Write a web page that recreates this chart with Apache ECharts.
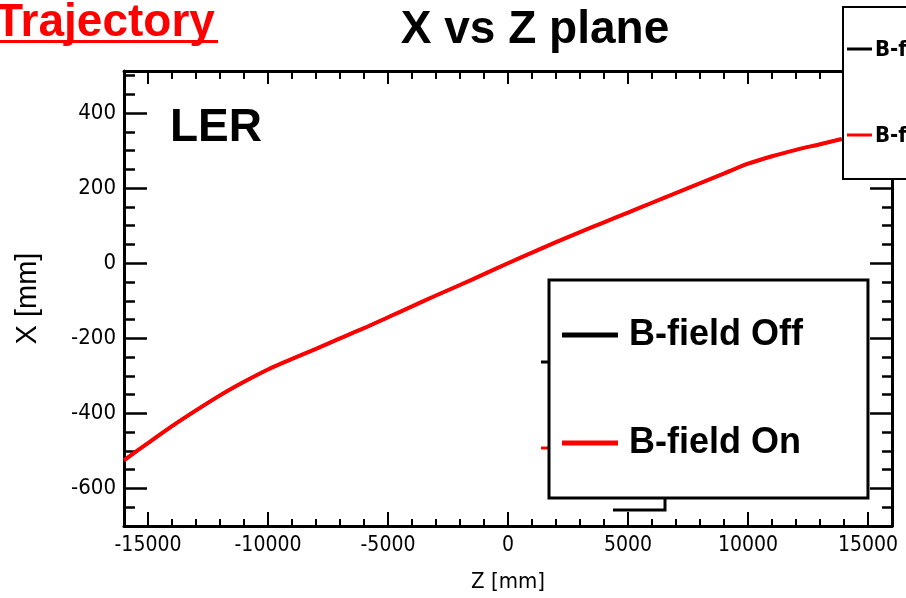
<!DOCTYPE html>
<html>
<head>
    <meta charset="UTF-8">
    <script type="text/javascript" src="https://cdn.jsdelivr.net/npm/echarts@6/dist/echarts.min.js"></script>
    <title>X vs Z plane</title>
    <style>
        html, body { margin: 0; padding: 0; background: #fff; }
        #main { width: 906px; height: 598px; }
    </style>
</head>
<body>
    <div id="main"></div>
    <script type="text/javascript">
    // Z position [mm] of the sampled trajectory points
    var zPos = [-16000, -15000, -14000, -13000, -12000, -11000, -10000, -9000, -8000, -7000,
        -6000, -5000, -4000, -3000, -2000, -1000, 0, 1000, 2000, 3000,
        4000, 5000, 6000, 7000, 8000, 9000, 10000, 11000, 12000, 13000, 13900];
    // X [mm] with B-field on (red)
    var xOn = [-525, -479, -434, -392, -352, -316, -283, -255, -228, -200,
        -173, -144, -115, -86, -58, -29, 0, 28, 56, 83,
        109, 135, 161, 187, 213, 239, 265, 285, 302, 317, 331];
    // X [mm] with B-field off (black, hidden under the red curve)
    var xOff = [-525, -479, -434, -392, -352, -316, -283, -255, -228, -200,
        -173, -144, -115, -86, -58, -29, 0, 28, 56, 83,
        109, 135, 161, 187, 213, 239, 265, 285, 302, 317, 331];

    var zTicks = [-15000, -10000, -5000, 0, 5000, 10000, 15000];
    var xTicks = [-600, -400, -200, 0, 200, 400];
    var seriesNames = ['B-field Off', 'B-field On'];

    var narrow = "'Liberation Sans Narrow', 'DejaVu Sans Condensed', sans-serif";
    var arial = "'Liberation Sans', Arial, sans-serif";

    function pairs(xs, ys) {
        var out = [];
        for (var i = 0; i < xs.length; i++) {
            out.push([xs[i], ys[i]]);
        }
        return out;
    }

    function plain(v) {
        return String(v);
    }

    var chart = echarts.init(document.getElementById('main'));

    var black = { color: '#000', width: 3 };

    var option = {
        backgroundColor: '#fff',
        animation: false,
        grid: {
            left: 124,
            right: 14,
            top: 71,
            bottom: 72,
            containLabel: false,
            outerBoundsMode: 'none'
        },
        legend: {
            data: seriesNames,
            orient: 'vertical',
            left: 549,
            top: 280,
            padding: [37, 65, 37, 13],
            itemGap: 72,
            itemWidth: 56,
            itemHeight: 5,
            icon: 'rect',
            backgroundColor: '#fff',
            borderColor: '#000',
            borderWidth: 3,
            borderRadius: 0,
            textStyle: {
                fontFamily: arial,
                fontWeight: 'bold',
                fontSize: 36,
                color: '#000',
                padding: [0, 0, 0, 6]
            },
            z: 10
        },
        xAxis: [{
            // bottom, major ticks + labels
            type: 'value',
            position: 'bottom',
            min: -16000,
            max: 16000,
            name: 'Z [mm]',
            nameLocation: 'middle',
            nameGap: 45,
            nameTextStyle: { fontFamily: narrow, fontSize: 22, color: '#000' },
            axisLine: { show: true, onZero: false, lineStyle: black },
            axisTick: { show: true, inside: true, length: 14, customValues: zTicks, lineStyle: { color: '#000', width: 2 } },
            axisLabel: { show: true, customValues: zTicks, formatter: plain, margin: 9, fontFamily: narrow, fontSize: 21, color: '#000' },
            splitLine: { show: false }
        }, {
            // bottom, minor ticks
            type: 'value',
            position: 'bottom',
            min: -16000,
            max: 16000,
            interval: 1000,
            axisLine: { show: false, onZero: false },
            axisTick: { show: true, inside: true, length: 7, lineStyle: { color: '#000', width: 2 } },
            axisLabel: { show: false },
            splitLine: { show: false }
        }, {
            // top, major ticks
            type: 'value',
            position: 'top',
            min: -16000,
            max: 16000,
            axisLine: { show: true, onZero: false, lineStyle: black },
            axisTick: { show: true, inside: true, length: 13, customValues: zTicks, lineStyle: { color: '#000', width: 2 } },
            axisLabel: { show: false },
            splitLine: { show: false }
        }, {
            // top, minor ticks
            type: 'value',
            position: 'top',
            min: -16000,
            max: 16000,
            interval: 1000,
            axisLine: { show: false, onZero: false },
            axisTick: { show: true, inside: true, length: 8, lineStyle: { color: '#000', width: 2 } },
            axisLabel: { show: false },
            splitLine: { show: false }
        }],
        yAxis: [{
            // left, major ticks + labels
            type: 'value',
            position: 'left',
            min: -700,
            max: 512,
            name: 'X [mm]',
            nameLocation: 'middle',
            nameGap: 82,
            nameRotate: 90,
            nameTextStyle: { fontFamily: arial, fontSize: 29, color: '#000' },
            axisLine: { show: true, onZero: false, lineStyle: black },
            axisTick: { show: true, inside: true, length: 23, customValues: xTicks, lineStyle: { color: '#000', width: 2.5 } },
            axisLabel: { show: true, customValues: xTicks, formatter: plain, margin: 8, fontFamily: narrow, fontSize: 22, color: '#000' },
            splitLine: { show: false }
        }, {
            // left, minor ticks
            type: 'value',
            position: 'left',
            min: -700,
            max: 512,
            interval: 50,
            axisLine: { show: false, onZero: false },
            axisTick: { show: true, inside: true, length: 11, lineStyle: { color: '#000', width: 2.5 } },
            axisLabel: { show: false },
            splitLine: { show: false }
        }, {
            // right, major ticks
            type: 'value',
            position: 'right',
            min: -700,
            max: 512,
            axisLine: { show: true, onZero: false, lineStyle: black },
            axisTick: { show: true, inside: true, length: 22, customValues: xTicks, lineStyle: { color: '#000', width: 2.5 } },
            axisLabel: { show: false },
            splitLine: { show: false }
        }, {
            // right, minor ticks
            type: 'value',
            position: 'right',
            min: -700,
            max: 512,
            interval: 50,
            axisLine: { show: false, onZero: false },
            axisTick: { show: true, inside: true, length: 10, lineStyle: { color: '#000', width: 2.5 } },
            axisLabel: { show: false },
            splitLine: { show: false }
        }],
        series: [{
            name: seriesNames[0],
            type: 'line',
            xAxisIndex: 0,
            yAxisIndex: 0,
            showSymbol: false,
            smooth: 0.3,
            color: '#000',
            lineStyle: { color: '#000', width: 3 },
            data: pairs(zPos, xOff)
        }, {
            name: seriesNames[1],
            type: 'line',
            xAxisIndex: 0,
            yAxisIndex: 0,
            showSymbol: false,
            smooth: 0.3,
            color: '#ff0000',
            lineStyle: { color: '#ff0000', width: 4 },
            data: pairs(zPos, xOn)
        }],
        graphic: [
            // page heading and plot titles
            { type: 'text', left: -5, top: 0, z: 20, style: { text: 'Trajectory', fontFamily: arial, fontWeight: 'bold', fontSize: 46, fill: '#ff0000' } },
            { type: 'rect', z: 20, shape: { x: 0, y: 40, width: 218, height: 3 }, style: { fill: '#ff0000' } },
            { type: 'text', z: 20, x: 535, y: 30, style: { text: 'X vs Z plane', fontFamily: arial, fontWeight: 'bold', fontSize: 46, fill: '#000', align: 'center', verticalAlign: 'middle' } },
            { type: 'text', z: 20, x: 170, y: 128, style: { text: 'LER', fontFamily: arial, fontWeight: 'bold', fontSize: 46, fill: '#000', align: 'left', verticalAlign: 'middle' } },
            // leftovers of an older legend box
            { type: 'line', z: 5, shape: { x1: 541, y1: 362, x2: 550, y2: 362 }, style: { stroke: '#000', lineWidth: 3 } },
            { type: 'line', z: 5, shape: { x1: 541, y1: 448, x2: 550, y2: 448 }, style: { stroke: '#ff0000', lineWidth: 3 } },
            { type: 'polyline', z: 5, shape: { points: [[613, 510], [665, 510], [665, 498]] }, style: { stroke: '#000', lineWidth: 3, fill: null } },
            // clipped legend at the top right
            { type: 'rect', z: 30, shape: { x: 843, y: 7, width: 100, height: 172 }, style: { fill: '#fff', stroke: '#000', lineWidth: 2 } },
            { type: 'line', z: 31, shape: { x1: 847, y1: 49, x2: 872, y2: 49 }, style: { stroke: '#000', lineWidth: 3 } },
            { type: 'line', z: 31, shape: { x1: 847, y1: 135, x2: 872, y2: 135 }, style: { stroke: '#ff0000', lineWidth: 3 } },
            { type: 'text', z: 31, x: 875, y: 50, style: { text: 'B-field Off', fontFamily: narrow, fontWeight: 'bold', fontSize: 22, fill: '#000', verticalAlign: 'middle' } },
            { type: 'text', z: 31, x: 875, y: 136, style: { text: 'B-field On', fontFamily: narrow, fontWeight: 'bold', fontSize: 22, fill: '#000', verticalAlign: 'middle' } }
        ]
    };

    chart.setOption(option);
    </script>
</body>
</html>
